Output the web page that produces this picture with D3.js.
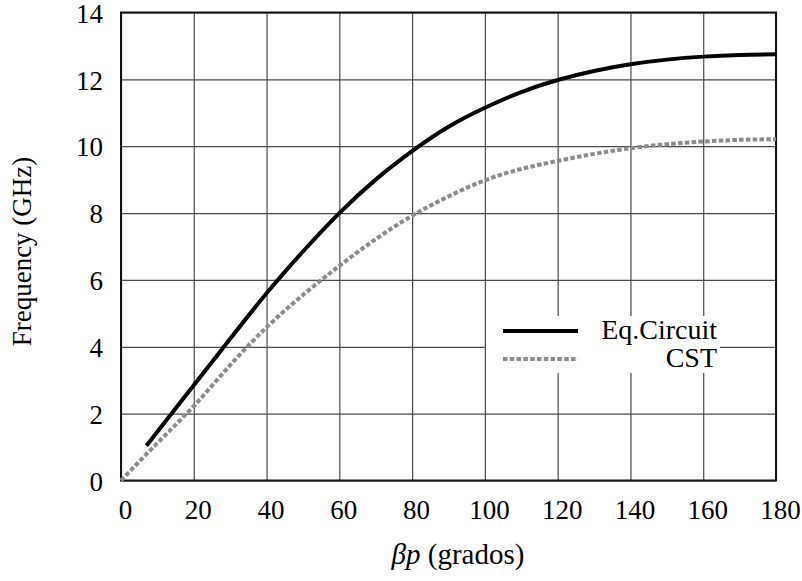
<!DOCTYPE html>
<html>
<head>
<meta charset="utf-8">
<script src="https://cdn.jsdelivr.net/npm/d3@7"></script>
<style>
  body { margin: 0; background: #fff; }
  text { font-family: "Liberation Serif", "Times New Roman", serif; fill: #000; }
</style>
</head>
<body>
<div id="chart"></div>
<script>
// data
var betaP = [7, 10, 20, 30, 40, 50, 60, 70, 80, 90, 100, 110, 120, 130, 140, 150, 160, 170, 180];
var eqCircuit = [1.04, 1.46, 2.85, 4.24, 5.6, 6.85, 8.0, 9.0, 9.85, 10.58, 11.15, 11.62, 11.98, 12.25, 12.45, 12.59, 12.68, 12.73, 12.75];

var cstBeta = [0, 10, 20, 30, 40, 50, 60, 70, 80, 90, 100, 110, 120, 130, 140, 150, 160, 170, 180];
var cst = [0, 1.12, 2.23, 3.45, 4.58, 5.55, 6.42, 7.22, 7.92, 8.5, 8.98, 9.32, 9.56, 9.77, 9.94, 10.06, 10.14, 10.19, 10.21];

var xTicks = [0, 20, 40, 60, 80, 100, 120, 140, 160, 180];
var yTicks = [0, 2, 4, 6, 8, 10, 12, 14];
var seriesNames = ["Eq.Circuit", "CST"];

var w = 802;
var h = 581;
// plot box (note: "top" is taken by window.top)
var pLeft = 121, pRight = 776, pTop = 12.5, pBottom = 480.5;

var svg = d3.select("#chart")
    .append("svg")
    .attr("width", w)
    .attr("height", h);

var x = d3.scaleLinear().domain([0, 180]).range([pLeft, pRight]);
var y = d3.scaleLinear().domain([0, 14]).range([pBottom, pTop]);

// grid
svg.append("g")
    .attr("transform", "translate(0," + pBottom + ")")
    .call(d3.axisBottom(x).tickValues(xTicks).tickSize(-(pBottom - pTop)).tickFormat(""))
    .call(function(g) { g.select(".domain").remove(); })
    .selectAll("line")
    .attr("stroke", "#4a4a4a")
    .attr("stroke-width", 1.2);

svg.append("g")
    .attr("transform", "translate(" + pLeft + ",0)")
    .call(d3.axisLeft(y).tickValues(yTicks).tickSize(-(pRight - pLeft)).tickFormat(""))
    .call(function(g) { g.select(".domain").remove(); })
    .selectAll("line")
    .attr("stroke", "#4a4a4a")
    .attr("stroke-width", 1.2);

// legend background hides the grid
svg.append("rect")
    .attr("x", 486)
    .attr("y", 316)
    .attr("width", 234)
    .attr("height", 57)
    .attr("fill", "#fff");

// border
svg.append("rect")
    .attr("x", pLeft)
    .attr("y", pTop)
    .attr("width", pRight - pLeft)
    .attr("height", pBottom - pTop)
    .attr("fill", "none")
    .attr("stroke", "#111")
    .attr("stroke-width", 2);

// tick labels
svg.append("g")
    .attr("transform", "translate(0," + pBottom + ")")
    .call(d3.axisBottom(x).tickValues(xTicks).tickSize(0).tickPadding(0))
    .call(function(g) { g.select(".domain").remove(); })
    .selectAll("text")
    .attr("y", 38)
    .attr("dy", null)
    .attr("dx", 4)
    .attr("font-family", "Liberation Serif, serif")
    .attr("font-size", "27px");

svg.append("g")
    .attr("transform", "translate(" + pLeft + ",0)")
    .call(d3.axisLeft(y).tickValues(yTicks).tickSize(0).tickPadding(18))
    .call(function(g) { g.select(".domain").remove(); })
    .selectAll("text")
    .attr("dy", "0.36em")
    .attr("font-family", "Liberation Serif, serif")
    .attr("font-size", "27px");

// curves
var line1 = d3.line()
    .x(function(d, i) { return x(betaP[i]); })
    .y(function(d) { return y(d); })
    .curve(d3.curveNatural);

var line2 = d3.line()
    .x(function(d, i) { return x(cstBeta[i]); })
    .y(function(d) { return y(d); })
    .curve(d3.curveNatural);

svg.append("path")
    .attr("d", line2(cst))
    .attr("fill", "none")
    .attr("stroke", "#8c8c8c")
    .attr("stroke-width", 4)
    .attr("stroke-dasharray", "4.5,2.3");

svg.append("path")
    .attr("d", line1(eqCircuit))
    .attr("fill", "none")
    .attr("stroke", "#000")
    .attr("stroke-width", 4);

// legend
svg.append("line")
    .attr("x1", 503).attr("x2", 578)
    .attr("y1", 331).attr("y2", 331)
    .attr("stroke", "#000")
    .attr("stroke-width", 4);

svg.append("line")
    .attr("x1", 503).attr("x2", 578)
    .attr("y1", 359).attr("y2", 359)
    .attr("stroke", "#8c8c8c")
    .attr("stroke-width", 4)
    .attr("stroke-dasharray", "4.5,2.3");

svg.selectAll("text.legend")
    .data(seriesNames)
    .enter()
    .append("text")
    .attr("class", "legend")
    .text(function(d) { return d; })
    .attr("x", 717)
    .attr("y", function(d, i) { return 338.5 + i * 28.5; })
    .attr("text-anchor", "end")
    .attr("font-size", "28px");

// axis titles
svg.append("text")
    .attr("transform", "translate(31," + ((pTop + pBottom) / 2 + 5) + ") rotate(-90)")
    .attr("text-anchor", "middle")
    .attr("font-size", "27px")
    .text("Frequency (GHz)");

var xt = svg.append("text")
    .attr("x", 458)
    .attr("y", 564)
    .attr("text-anchor", "middle")
    .attr("font-size", "29px");
xt.append("tspan").attr("font-style", "italic").text("βp");
xt.append("tspan").text(" (grados)");
</script>
</body>
</html>
